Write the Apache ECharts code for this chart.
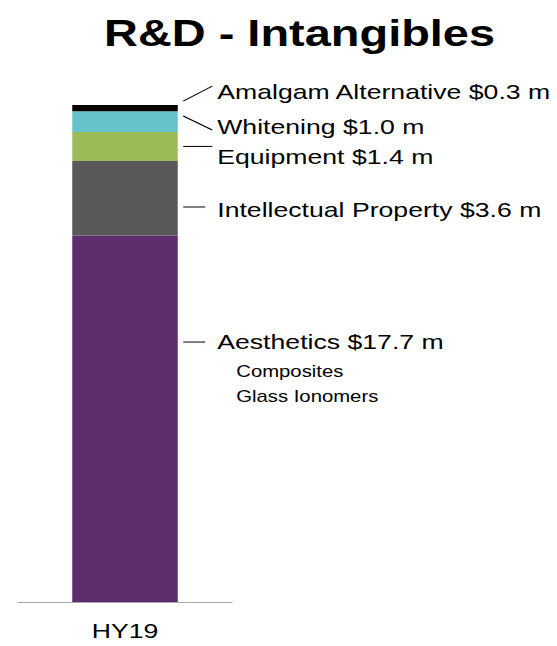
<!DOCTYPE html>
<html>
<head>
<meta charset="utf-8">
<script src="https://cdn.jsdelivr.net/npm/echarts@6/dist/echarts.min.js"></script>
<style>
html,body{margin:0;padding:0;background:#fff;overflow:hidden;width:557px;height:646px;}
#chart{width:439px;height:646px;transform:scaleX(1.26879);transform-origin:0 0;}
</style>
</head>
<body>
<div id="chart"></div>
<script>
// ---- data ----
const chartTitle = 'R&D - Intangibles';
const categories = ['HY19'];
const segmentNames = ['Aesthetics', 'Intellectual Property', 'Equipment', 'Whitening', 'Amalgam Alternative'];
const segmentValues = [17.7, 3.6, 1.4, 1.0, 0.3];
const aestheticsItems = ['Composites', 'Glass Ionomers'];

// ---- styles / layout ----
const S = 557 / 439;                 // horizontal stretch of the original picture
const sx = v => v / S;
const FONT = 'Arial, "Liberation Sans", sans-serif';
const colors = ['#5E2D6B', '#595959', '#9BBB59', '#67C3CB', '#000000'];
const barWidthRef = 105.5;
// leader/label offsets (reference px) relative to bar right edge (x) and segment middle (y)
const labelLayout = [
  { x1: 5.5, y1: -76.7, x2: 27.5, y2: -76.7, tx: 39.5, ty: -77.5 },
  { x1: 5.5, y1: 8.8,   x2: 27.5, y2: 8.8,   tx: 39.5, ty: 11.8 },
  { x1: 5.5, y1: 0,     x2: 34.5, y2: 0,     tx: 39.5, ty: 10.6 },
  { x1: 5.5, y1: -5.6,  x2: 34.5, y2: 8.4,   tx: 39.5, ty: 5.4 },
  { x1: 5.5, y1: -7,    x2: 34.5, y2: -22,   tx: 39.5, ty: -17 }
];
const subLayout = { tx: 58.5, ty: [30, 55] };

const total = segmentValues.reduce((a, b) => a + b, 0);

const chart = echarts.init(document.getElementById('chart'), null, { renderer: 'svg' });

const barSeries = segmentNames.map((name, i) => ({
  name: name,
  type: 'bar',
  stack: 'total',
  barWidth: sx(barWidthRef),
  silent: true,
  itemStyle: { color: colors[i] },
  data: [segmentValues[i]]
}));

const labelSeries = {
  type: 'custom',
  silent: true,
  clip: false,
  data: segmentNames.map((n, i) => [0, i]),
  encode: { x: 0, y: 1 },
  renderItem: function (params, api) {
    const i = api.value(1);
    let cum = 0;
    for (let k = 0; k <= i; k++) cum += segmentValues[k];
    const mid = cum - segmentValues[i] / 2;
    const p = api.coord([0, mid]);
    const right = p[0] + sx(barWidthRef) / 2;
    const L = labelLayout[i];
    const children = [
      {
        type: 'line',
        shape: { x1: right + sx(L.x1), y1: p[1] + L.y1, x2: right + sx(L.x2), y2: p[1] + L.y2 },
        style: { stroke: '#000', lineWidth: 1 }
      },
      {
        type: 'text',
        style: {
          text: segmentNames[i] + ' $' + segmentValues[i].toFixed(1) + ' m',
          x: right + sx(L.tx), y: p[1] + L.ty,
          fill: '#000', fontSize: 21, fontFamily: FONT,
          align: 'left', verticalAlign: 'middle'
        }
      }
    ];
    if (i === 0) {
      aestheticsItems.forEach((t, j) => {
        children.push({
          type: 'text',
          style: {
            text: t,
            x: right + sx(subLayout.tx), y: p[1] + L.ty + subLayout.ty[j],
            fill: '#000', fontSize: 16, fontFamily: FONT,
            align: 'left', verticalAlign: 'middle'
          }
        });
      });
    }
    return { type: 'group', children: children };
  }
};

chart.setOption({
  animation: false,
  backgroundColor: '#fff',
  title: {
    text: chartTitle,
    left: sx(104),
    top: 15,
    padding: 0,
    textStyle: { fontSize: 37, fontWeight: 'bold', color: '#000', fontFamily: FONT }
  },
  grid: { left: sx(18), right: 439 - sx(232), top: 105, bottom: 44, containLabel: false },
  xAxis: {
    type: 'category',
    data: categories,
    axisLine: { show: true, lineStyle: { color: '#A6A6A6', width: 1 } },
    axisTick: { show: false },
    axisLabel: { color: '#000', fontSize: 21, fontFamily: FONT, margin: 18 }
  },
  yAxis: {
    type: 'value',
    show: false,
    min: 0,
    max: total
  },
  series: barSeries.concat([labelSeries])
});
</script>
</body>
</html>
